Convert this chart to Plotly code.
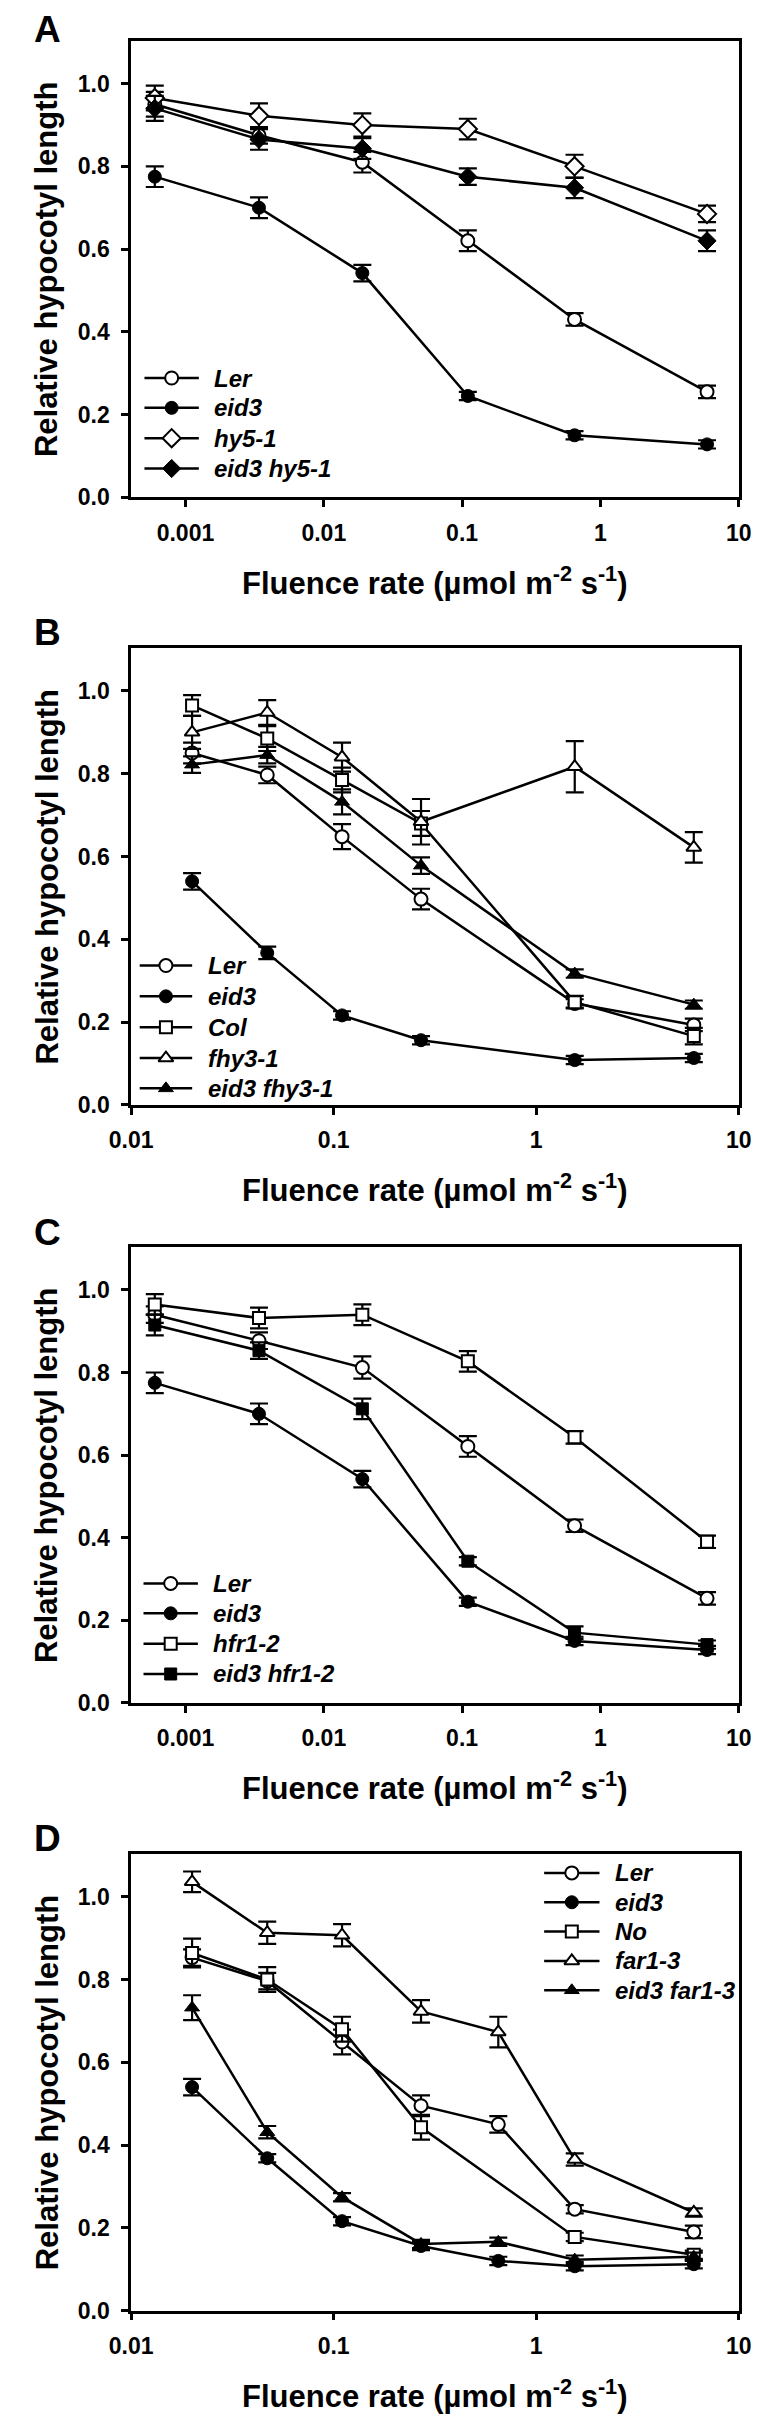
import plotly.graph_objects as go

# ---------------- data ----------------
x_A = [0.0006, 0.0034, 0.019, 0.11, 0.65, 5.9]
A_Ler = [0.95, 0.875, 0.81, 0.62, 0.43, 0.255]
A_Ler_err = [0.03, 0.02, 0.025, 0.025, 0.015, 0.015]
A_eid3 = [0.775, 0.70, 0.542, 0.245, 0.15, 0.128]
A_eid3_err = [0.025, 0.025, 0.02, 0.01, 0.01, 0.01]
A_hy5 = [0.965, 0.922, 0.90, 0.89, 0.80, 0.685]
A_hy5_err = [0.03, 0.03, 0.028, 0.025, 0.028, 0.02]
A_eid3hy5 = [0.94, 0.865, 0.843, 0.775, 0.748, 0.62]
A_eid3hy5_err = [0.03, 0.025, 0.025, 0.02, 0.025, 0.025]

x_B = [0.02, 0.047, 0.11, 0.27, 1.55, 6.0]
B_Ler = [0.85, 0.797, 0.648, 0.497, 0.245, 0.193]
B_Ler_err = [0.025, 0.02, 0.03, 0.025, 0.01, 0.015]
B_eid3 = [0.54, 0.367, 0.216, 0.156, 0.108, 0.113]
B_eid3_err = [0.02, 0.015, 0.01, 0.01, 0.01, 0.01]
B_Col = [0.965, 0.885, 0.785, 0.68, 0.248, 0.166]
B_Col_err = [0.025, 0.03, 0.03, 0.03, 0.015, 0.02]
B_fhy3 = [0.90, 0.948, 0.84, 0.684, 0.817, 0.622]
B_fhy3_err = [0.04, 0.03, 0.035, 0.055, 0.062, 0.037]
B_eid3fhy3 = [0.822, 0.845, 0.732, 0.578, 0.317, 0.242]
B_eid3fhy3_err = [0.02, 0.02, 0.03, 0.02, 0.01, 0.01]

x_C = [0.0006, 0.0034, 0.019, 0.11, 0.65, 5.9]
C_Ler = [0.94, 0.877, 0.812, 0.621, 0.429, 0.253]
C_Ler_err = [0.02, 0.02, 0.027, 0.025, 0.015, 0.015]
C_eid3 = [0.775, 0.70, 0.542, 0.245, 0.15, 0.128]
C_eid3_err = [0.025, 0.025, 0.02, 0.01, 0.01, 0.01]
C_hfr = [0.965, 0.932, 0.94, 0.827, 0.643, 0.39]
C_hfr_err = [0.025, 0.025, 0.025, 0.025, 0.015, 0.015]
C_eid3hfr = [0.915, 0.853, 0.712, 0.343, 0.17, 0.141]
C_eid3hfr_err = [0.025, 0.02, 0.025, 0.01, 0.015, 0.01]

x_D = [0.02, 0.047, 0.11, 0.27, 0.65, 1.55, 6.0]
D_Ler = [0.853, 0.796, 0.649, 0.495, 0.45, 0.245, 0.19]
D_Ler_err = [0.02, 0.02, 0.03, 0.025, 0.02, 0.01, 0.015]
D_eid3 = [0.54, 0.368, 0.216, 0.156, 0.12, 0.107, 0.112]
D_eid3_err = [0.02, 0.01, 0.01, 0.01, 0.01, 0.01, 0.01]
D_No = [0.864, 0.80, 0.68, 0.443, None, 0.178, 0.135]
D_No_err = [0.035, 0.03, 0.03, 0.03, 0, 0.01, 0.01]
D_far = [1.036, 0.913, 0.907, 0.723, 0.673, 0.365, 0.237]
D_far_err = [0.025, 0.027, 0.027, 0.027, 0.037, 0.015, 0.01]
D_eid3far = [0.732, 0.431, 0.274, 0.161, 0.166, 0.123, 0.13]
D_eid3far_err = [0.03, 0.015, 0.01, 0.01, 0.01, 0.01, 0.01]

panel_letters = ["A", "B", "C", "D"]
y_ticks = [0.0, 0.2, 0.4, 0.6, 0.8, 1.0]
y_ticktext = ["0.0", "0.2", "0.4", "0.6", "0.8", "1.0"]
x_ticks_AC = [0.001, 0.01, 0.1, 1, 10]
x_ticktext_AC = ["0.001", "0.01", "0.1", "1", "10"]
x_ticks_BD = [0.01, 0.1, 1, 10]
x_ticktext_BD = ["0.01", "0.1", "1", "10"]
y_title = "Relative hypocotyl length"
x_title = "Fluence rate (µmol m<sup>-2</sup> s<sup>-1</sup>)"

# ---------------- styles ----------------
OPEN = dict(color="white", line=dict(color="black", width=2))
FILL = dict(color="black", line=dict(color="black", width=1))
SYM = {
    "circle_o": ("circle", OPEN, 13), "circle_f": ("circle", FILL, 13),
    "diamond_o": ("diamond", OPEN, 14), "diamond_f": ("diamond", FILL, 14),
    "square_o": ("square", OPEN, 12), "square_f": ("square", FILL, 12),
    "tri_o": ("triangle-up", OPEN, 13), "tri_f": ("triangle-up", FILL, 13),
}

panels = [
    dict(x=x_A, ticks=(x_ticks_AC, x_ticktext_AC), xr=[-3.393, 1.0],
         series=[("Ler", A_Ler, A_Ler_err, "circle_o"),
                 ("eid3", A_eid3, A_eid3_err, "circle_f"),
                 ("hy5-1", A_hy5, A_hy5_err, "diamond_o"),
                 ("eid3 hy5-1", A_eid3hy5, A_eid3hy5_err, "diamond_f")]),
    dict(x=x_B, ticks=(x_ticks_BD, x_ticktext_BD), xr=[-2.0, 1.0],
         series=[("Ler", B_Ler, B_Ler_err, "circle_o"),
                 ("eid3", B_eid3, B_eid3_err, "circle_f"),
                 ("Col", B_Col, B_Col_err, "square_o"),
                 ("fhy3-1", B_fhy3, B_fhy3_err, "tri_o"),
                 ("eid3 fhy3-1", B_eid3fhy3, B_eid3fhy3_err, "tri_f")]),
    dict(x=x_C, ticks=(x_ticks_AC, x_ticktext_AC), xr=[-3.393, 1.0],
         series=[("Ler", C_Ler, C_Ler_err, "circle_o"),
                 ("eid3", C_eid3, C_eid3_err, "circle_f"),
                 ("hfr1-2", C_hfr, C_hfr_err, "square_o"),
                 ("eid3 hfr1-2", C_eid3hfr, C_eid3hfr_err, "square_f")]),
    dict(x=x_D, ticks=(x_ticks_BD, x_ticktext_BD), xr=[-2.0, 1.0],
         series=[("Ler", D_Ler, D_Ler_err, "circle_o"),
                 ("eid3", D_eid3, D_eid3_err, "circle_f"),
                 ("No", D_No, D_No_err, "square_o"),
                 ("far1-3", D_far, D_far_err, "tri_o"),
                 ("eid3 far1-3", D_eid3far, D_eid3far_err, "tri_f")]),
]

# layout geometry (pixels)
W, H = 759, 2418
BOX_L, BOX_R = 106, 743
TOPS = [32.7, 643.4, 1245.7, 1855.7]
BOTS = [492.0, 1102.7, 1704.0, 2315.0]
# legend geometry per panel: line x0, x1 (px from box left), text x, row offsets
LEG = [
    dict(lx=(14, 71), tx=85, rows_from_bottom=[120, 90, 59.5, 29]),
    dict(lx=(9, 64), tx=78, rows_from_bottom=[140, 109, 78, 47, 16.5]),
    dict(lx=(13, 70), tx=84, rows_from_bottom=[120, 90, 59.5, 29]),
    dict(lx=(433, 491), tx=505, rows_from_top=[19.3, 48.8, 78.3, 107.8, 137.3]),
]

FONT = "Liberation Sans, Arial, sans-serif"
LW = 2.5

fig = go.Figure()
annotations = []
layout = {}

for i, p in enumerate(panels):
    n = i + 1
    sx = "" if n == 1 else str(n)
    xa, ya = "x" + sx, "y" + sx
    # lines first
    for name, vals, errs, sym in p["series"]:
        fig.add_trace(go.Scatter(x=p["x"], y=vals, mode="lines", connectgaps=True,
                                 line=dict(color="black", width=LW),
                                 xaxis=xa, yaxis=ya, showlegend=False, hoverinfo="skip"))
    for name, vals, errs, sym in p["series"]:
        s, st, sz = SYM[sym]
        fig.add_trace(go.Scatter(x=p["x"], y=vals, mode="markers", name=name,
                                 marker=dict(symbol=s, size=sz, color=st["color"], line=st["line"]),
                                 error_y=dict(type="data", array=errs, visible=True,
                                              color="black", thickness=2.2, width=9),
                                 xaxis=xa, yaxis=ya, showlegend=False))
    top, bot = TOPS[i], BOTS[i]
    dom_y = [1 - bot / H, 1 - top / H]
    dom_x = [BOX_L / W, BOX_R / W]
    common = dict(showline=True, linewidth=LW, linecolor="black", mirror=True,
                  ticks="outside", ticklen=7, tickwidth=LW, tickcolor="black",
                  showgrid=False, zeroline=False,
                  tickfont=dict(family=FONT, size=23, color="black", weight="bold"))
    layout["xaxis" + sx] = dict(type="log", range=p["xr"], domain=dom_x, anchor=ya,
                                tickvals=p["ticks"][0], ticktext=p["ticks"][1],
                                ticklabelstandoff=6, **common)
    layout["yaxis" + sx] = dict(range=[0, 1.104], domain=dom_y, anchor=xa,
                                tickvals=y_ticks, ticktext=y_ticktext,
                                ticklabelstandoff=7, **common)
    # legend on an overlaid pixel-unit axis
    lid = str(4 + n)
    bw, bh = BOX_R - BOX_L, bot - top
    hidden = dict(visible=False, showticklabels=False, ticks="", showgrid=False,
                  zeroline=False, showline=False, fixedrange=True)
    layout["xaxis" + lid] = dict(overlaying=xa, range=[0, bw], anchor="y" + lid, **hidden)
    layout["yaxis" + lid] = dict(overlaying=ya, range=[bh, 0], anchor="x" + lid, **hidden)
    lg = LEG[i]
    if "rows_from_bottom" in lg:
        rows = [bh - r for r in lg["rows_from_bottom"]]
    else:
        rows = lg["rows_from_top"]
    for (name, vals, errs, sym), ry in zip(p["series"], rows):
        s, st, sz = SYM[sym]
        fig.add_trace(go.Scatter(x=[lg["lx"][0], lg["lx"][1]], y=[ry, ry], mode="lines",
                                 line=dict(color="black", width=LW),
                                 xaxis="x" + lid, yaxis="y" + lid, showlegend=False, hoverinfo="skip"))
        fig.add_trace(go.Scatter(x=[(lg["lx"][0] + lg["lx"][1]) / 2], y=[ry], mode="markers",
                                 marker=dict(symbol=s, size=sz, color=st["color"], line=st["line"]),
                                 xaxis="x" + lid, yaxis="y" + lid, showlegend=False, hoverinfo="skip"))
        annotations.append(dict(x=lg["tx"], y=ry, xref="x" + lid, yref="y" + lid,
                                text=name, showarrow=False, xanchor="left", yanchor="middle",
                                font=dict(family=FONT, size=24, color="black",
                                          weight="bold", style="italic")))
    # panel letter (box top placed so the cap top sits ~29px above the plot box)
    letter_top = max(0.0, top - 28.7 - 8)
    annotations.append(dict(x=3 / W, y=1 - letter_top / H, xref="paper", yref="paper",
                            text=panel_letters[i], showarrow=False, xanchor="left", yanchor="top",
                            borderpad=0,
                            font=dict(family=FONT, size=37, color="black", weight="bold")))
    # y title
    annotations.append(dict(x=18 / W, y=1 - (top + bot) / 2 / H, xref="paper", yref="paper",
                            text=y_title, textangle=-90, showarrow=False,
                            xanchor="center", yanchor="middle",
                            font=dict(family=FONT, size=31, color="black", weight="bold")))
    # x title
    annotations.append(dict(x=(BOX_L + BOX_R) / 2 / W, y=1 - (bot + 84) / H, xref="paper", yref="paper",
                            text=x_title, showarrow=False, xanchor="center", yanchor="middle",
                            font=dict(family=FONT, size=31, color="black", weight="bold")))

fig.update_layout(width=W, height=H, margin=dict(l=0, r=0, t=0, b=0),
                  paper_bgcolor="white", plot_bgcolor="white", showlegend=False,
                  annotations=annotations, **layout)

fig.write_html("out.html")
